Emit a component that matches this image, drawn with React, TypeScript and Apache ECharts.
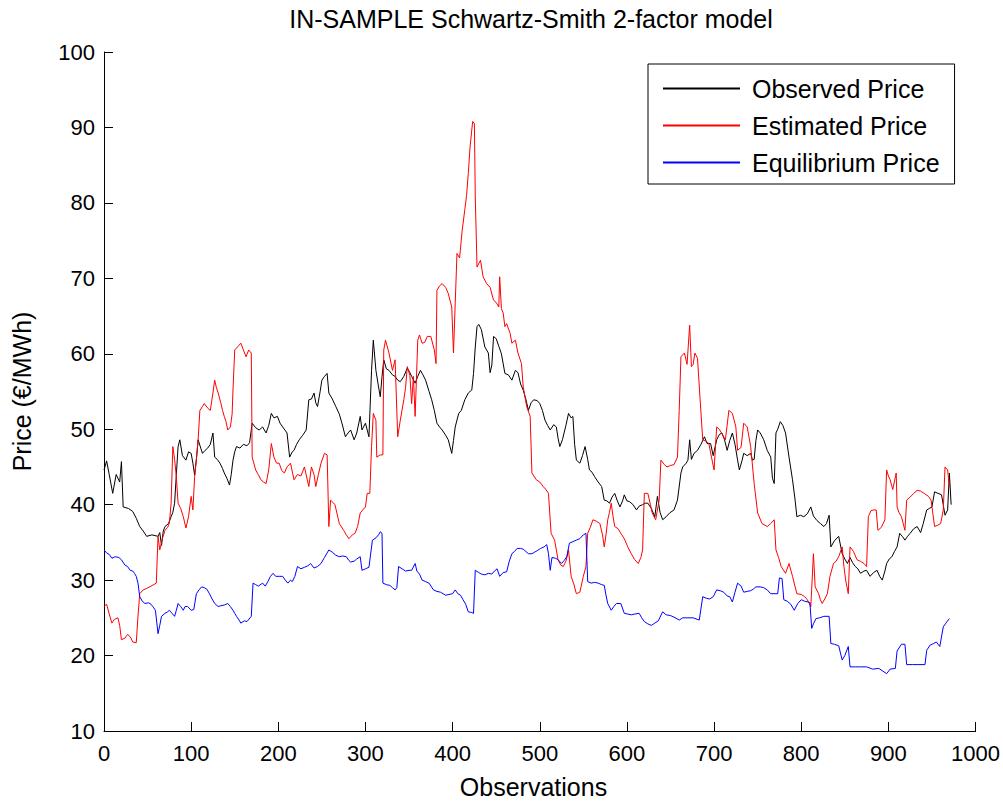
import React, { useEffect, useRef } from "react";
import * as echarts from "echarts";

const TITLE = "IN-SAMPLE Schwartz-Smith 2-factor model";
const X_NAME = "Observations";
const Y_NAME = "Price (€/MWh)";
const SERIES_NAMES = ["Observed Price", "Estimated Price", "Equilibrium Price"];
const SERIES_COLORS = ["#000000", "#ff0000", "#0000ff"];
const X_TICKS = [0, 100, 200, 300, 400, 500, 600, 700, 800, 900, 1000];
const Y_TICKS = [10, 20, 30, 40, 50, 60, 70, 80, 90, 100];

const observed: number[][] = [
  [0,44.6],[3,45.8],[6,44],[10,41.5],[14,44],[18,43],[20,45.7],[22,39.7],[28,39.5],[33,39.1],[37,38.2],[41,37.1],[45,36.5],[49,35.8],[55,36],[62,35.8],[64,36.3],[66,34.6],[68,36.5],[70,37.1],[74,37.5],[77,38.4],[79,39],[81,40.2],[83,44],[85,47.7],[87,48.6],[90,46.5],[94,45.9],[97,47],[100,46.8],[102,45.5],[104,43.9],[106,46],[108,48.6],[111,47.5],[113,46.8],[116,47.2],[119,47.5],[122,48],[125,49.5],[127,46.3],[130,46],[133,45.5],[136,44.8],[138,44.2],[141,43.5],[144,42.6],[146,44],[148,45.9],[150,47],[152,47.7],[156,47.5],[160,48],[164,47.8],[167,48.2],[170,50.8],[174,50.2],[178,49.9],[182,50.3],[186,49.5],[189,50.5],[192,52.1],[195,51.5],[199,51.7],[202,50.8],[205,50.3],[210,49.5],[213,46.3],[216,47],[218,47.2],[221,48],[224,48.6],[228,49.2],[232,49.9],[235,53.9],[238,54],[241,54.8],[243,53.5],[245,53],[248,55],[250,56.5],[253,57],[256,57.4],[258,54.8],[262,54],[266,53],[270,52],[273,50.8],[277,49],[280,49.5],[283,49.9],[287,48.6],[290,49.5],[294,51.7],[296,49.9],[300,50.8],[304,49],[307,57.8],[309,61.8],[312,57.8],[315,55.6],[317,54.3],[319,57],[321,59.2],[324,58],[327,57.8],[331,57.2],[334,57],[337,56.5],[340,56.3],[344,57],[348,58.1],[351,57.5],[353,57],[357,56.1],[360,57],[363,57.8],[366,57.2],[369,56.5],[373,55],[376,53.9],[379,52.5],[382,50.8],[385,50.3],[388,49.9],[392,49.2],[395,48.6],[399,46.8],[401,48.5],[403,50.3],[407,52.1],[410,52.5],[414,53.9],[418,54.8],[422,55.2],[424,57.4],[426,60.9],[428,63.6],[430,63.9],[433,63.2],[437,60.9],[441,60.1],[443,57.5],[445,58.5],[447,62.3],[450,62],[453,61],[456,60],[460,57.4],[464,57.2],[468,56.5],[472,57.8],[475,57.5],[478,56],[481,55.2],[484,54],[487,52.5],[490,53.5],[493,53.9],[497,53.8],[500,53.4],[503,52.5],[506,51.2],[509,50.5],[512,49.9],[516,50.6],[519,50.3],[521,48.8],[523,47.7],[526,48.6],[530,50.5],[533,52.1],[536,51.5],[538,51.7],[540,48],[542,45.9],[546,45.5],[549,46.5],[552,47.7],[555,46],[557,44.6],[560,44.3],[563,43.7],[567,43],[571,42.4],[574,40.6],[577,40.5],[580,40.2],[583,41],[586,41.5],[589,40.5],[592,39.7],[595,40.5],[597,41.3],[600,40.5],[603,40.4],[607,40],[611,39.3],[614,39.8],[618,40],[621,40.2],[624,40.2],[628,39.5],[632,38.4],[635,41.1],[638,39],[641,38],[645,38.4],[649,38.9],[654,39.3],[658,40.6],[662,44.2],[664,45],[668,45.5],[670,45.9],[672,48.6],[674,46],[677,46.8],[681,47.2],[685,48],[689,49],[692,48.1],[696,48.1],[699,46.5],[703,48.6],[706,49.3],[709,49.5],[712,48.6],[715,47.2],[718,48.5],[721,49.5],[724,48],[727,45.9],[729,44.6],[732,45.8],[734,46.8],[738,46.5],[742,46.8],[744,45.9],[746,46],[748,48.5],[750,49.9],[753,49.5],[757,48.6],[761,47.2],[765,46.3],[767,43.5],[769,42.8],[771,49.5],[773,50],[776,51],[779,50.5],[782,49.5],[786,46.3],[790,43.3],[793,40.6],[795,38.4],[799,38.6],[803,38.4],[807,38.8],[811,39.7],[814,38.5],[818,37.9],[822,37.5],[826,37.1],[829,37.5],[832,38.6],[834,34.4],[838,35.2],[843,35.8],[847,33.5],[850,32.8],[853,32.2],[856,33],[859,32.3],[862,31.8],[865,31.5],[868,30.9],[872,31.2],[875,31.3],[879,30.5],[883,31],[887,31.3],[890,30.5],[893,30],[896,31.2],[898,32.2],[901,32.8],[904,33.1],[907,33.8],[910,34.4],[913,36.2],[916,35.8],[919,35.3],[922,35.8],[925,36.2],[929,36.8],[933,37.1],[937,36.3],[940,37.5],[944,39.3],[947,39.5],[950,39.7],[953,41.7],[957,41.5],[961,41.3],[965,38.6],[968,39.3],[970,44.2],[972,40]
];

const estimated: number[][] = [
  [0,26.5],[3,26.8],[6,25.5],[9,24.3],[12,24.8],[16,25],[18,24],[20,22.1],[24,22.3],[27,22.8],[30,22.5],[33,21.8],[37,21.7],[39,25.2],[41,28.2],[45,28.7],[49,28.9],[54,29.2],[60,29.6],[62,35.8],[64,34],[67,35.5],[70,36.6],[73,37],[75,37.5],[77,40.2],[79,47.7],[81,46],[83,43.7],[85,40.2],[88,39.5],[91,38.4],[94,36.9],[97,38.4],[100,41.1],[102,39.3],[104,43.7],[106,46],[108,48.6],[110,52.5],[113,53],[115,53.4],[119,52.8],[122,52.5],[125,54.8],[127,56.5],[129,55.5],[131,54.8],[134,53.5],[136,52.5],[138,51.7],[140,51],[142,49.9],[145,50.3],[147,52],[148,55.2],[150,60.5],[154,61],[157,61.4],[160,60.5],[163,59.6],[166,60.5],[169,60.1],[170,46.3],[174,44.6],[177,44],[180,43.3],[183,43],[186,42.8],[189,44.6],[192,48.1],[195,46.3],[198,45.5],[201,45.5],[204,44.5],[207,44.2],[210,45],[214,45.5],[218,43.3],[222,44],[226,43.8],[230,45],[235,42.4],[238,45],[241,44],[243,42.4],[246,44],[249,45.5],[253,46.8],[256,46.6],[258,37.1],[260,40.6],[265,40],[270,37.5],[275,36.6],[278,36],[281,35.5],[285,36],[288,36.2],[291,37.1],[294,38.9],[297,39.3],[300,39.7],[302,41.5],[305,41.5],[307,47.7],[309,52.1],[312,51.2],[313,46.3],[317,46.6],[320,46.6],[321,60.5],[323,61.8],[327,60.1],[331,57.8],[334,59.2],[337,49],[340,51.2],[344,53.9],[346,55.5],[348,58.3],[351,57.1],[353,53.4],[355,57],[357,51.7],[360,61.8],[362,62.5],[365,61.4],[368,61.5],[371,62.3],[375,62.3],[379,60.5],[381,58.7],[382,68.4],[385,69],[388,69.3],[392,68.8],[395,68],[399,66.2],[401,60.1],[403,66.7],[405,73.3],[408,72.7],[411,76.4],[414,79.1],[416,81],[418,83.9],[420,87.4],[423,90.8],[425,90.5],[426,80.8],[428,71.5],[432,72.4],[435,70.2],[439,69.3],[443,68.8],[447,67.1],[450,66.8],[453,66.2],[454,70.2],[456,66],[458,65.4],[460,63.6],[462,64],[466,62.7],[468,61.4],[472,61.8],[475,60.1],[479,58.7],[481,55.6],[485,53],[489,51.7],[491,44.2],[496,43.3],[500,43],[504,42.4],[507,42],[510,41.5],[513,36.2],[517,35.3],[521,32.7],[524,32],[527,31.8],[530,32.5],[533,34],[536,30.5],[539,29.5],[542,28.2],[546,28.4],[550,30.5],[553,31.8],[555,36.2],[558,37],[561,38],[565,37.8],[569,37.5],[572,36],[574,34.4],[576,36],[578,38],[580,39],[582,40.2],[584,38.5],[586,37.1],[590,36.8],[593,36.2],[597,35.5],[601,34.4],[605,33.5],[609,32.7],[613,32.2],[616,33],[618,34],[620,41.5],[624,41.5],[627,40],[629,38.9],[633,38],[637,40.6],[639,45.9],[643,45.3],[646,45],[650,45.2],[654,45.3],[658,46.3],[660,52.5],[662,59.6],[666,60.1],[669,58.6],[672,63.8],[674,58.3],[676,58.6],[678,60.1],[681,59.4],[684,53.9],[687,48.6],[691,48.4],[694,48.1],[697,46.3],[700,44.6],[703,50.3],[706,50],[709,49.4],[713,48.6],[717,52.5],[721,52.1],[725,50.3],[727,47.2],[731,47.6],[734,50.8],[738,50.3],[742,47.7],[746,42.8],[750,38.9],[755,37.5],[761,37.1],[765,37.5],[769,38],[771,34],[774,33],[777,31.8],[782,30.9],[786,32.2],[790,30.5],[795,28.2],[800,28.1],[804,27.8],[807,27.4],[811,26.5],[814,33.5],[816,29.1],[820,28.2],[822,27.4],[824,26.9],[827,27.5],[830,28.2],[833,30.5],[837,32.2],[840,32.5],[843,33.1],[847,34.4],[849,31.8],[851,30],[854,28.2],[856,34.4],[860,33.8],[864,32.7],[868,32.5],[872,32.2],[875,31.8],[877,38.4],[880,39.2],[883,39.3],[886,39.3],[888,36.6],[892,37],[896,38],[898,44.6],[900,43.8],[902,43.3],[905,42],[909,44.2],[910,39.7],[912,39],[915,38.4],[919,36.6],[921,40.6],[925,41],[929,41.5],[933,41.9],[937,41.8],[941,41.5],[946,41.1],[949,40.6],[953,37.1],[957,37.3],[960,37.5],[963,39.3],[965,45],[968,44.6],[970,42.4]
];

const equilibrium: number[][] = [
  [0,34],[3,33.6],[6,33.4],[9,32.9],[13,33.1],[17,33],[20,32.7],[24,32],[27,31.8],[30,31.3],[33,31.2],[35,30.9],[37,30.5],[39,29.6],[41,27.8],[44,27.2],[47,26.9],[51,27],[54,26.8],[56,26.5],[59,26],[62,22.9],[64,24],[66,25.2],[70,25.6],[73,25.8],[75,26],[78,25.6],[81,25.2],[83,26],[85,26.9],[88,26.5],[91,26],[93,26.5],[96,26.5],[100,26],[103,26.1],[106,28.2],[109,28.7],[112,29.1],[115,29],[118,28.8],[121,28.2],[124,27.5],[127,26.9],[131,26.5],[134,26.6],[138,26.7],[142,26.9],[145,26.5],[148,26],[150,25.6],[152,25.2],[155,24.7],[157,24.3],[161,24.6],[164,24.5],[169,25.2],[171,29.6],[174,29.4],[177,29.2],[182,29.6],[185,29.2],[188,29.8],[191,30.5],[194,30.9],[197,30.5],[201,30.5],[205,30.5],[208,30],[211,29.6],[214,30],[216,29.8],[219,30.5],[222,31.8],[226,31.5],[230,31.7],[234,31.9],[237,32.2],[241,31.6],[245,31.8],[249,32.2],[253,33],[256,33.6],[258,34],[262,33.7],[266,33.3],[270,33.1],[274,33.2],[278,33.1],[281,32.6],[283,32.4],[287,32.5],[290,32.8],[294,33.1],[296,31.3],[300,31.5],[304,31.7],[308,35.3],[312,35.6],[315,36],[317,36.4],[319,36.2],[320,29.6],[324,29.4],[328,29.3],[331,29],[334,28.7],[336,29],[338,31.8],[342,31.5],[346,31.2],[350,31.3],[353,31.3],[357,32.2],[359,31.2],[362,30.8],[365,30],[369,29.8],[373,29.6],[378,28.7],[382,28.5],[386,28.4],[392,28],[396,28.1],[400,28.2],[403,28.7],[406,28.2],[409,28],[412,27.4],[415,26.8],[418,25.8],[422,25.7],[424,25.6],[426,31.3],[430,31],[433,30.8],[437,30.7],[441,30.9],[445,30.8],[448,31.2],[451,31.5],[454,30.5],[458,31],[462,31.1],[465,32.5],[468,33.5],[471,33.8],[474,34.2],[478,34.2],[481,34.1],[484,33.8],[487,33.5],[491,33.5],[494,33.7],[497,33.9],[501,34.2],[505,34.4],[508,34.7],[510,33.5],[512,31.3],[514,33],[518,32.9],[521,32.7],[525,32.2],[528,32.6],[531,33.1],[534,34.9],[538,35.1],[542,35.3],[546,35.5],[550,36],[553,36.2],[555,29.8],[559,29.6],[563,29.7],[567,29.6],[571,29.4],[574,29.3],[576,28],[578,26.9],[582,26],[585,26.5],[588,26.9],[593,26.9],[597,25.6],[601,25.5],[605,25.4],[609,25.5],[614,25.6],[617,25],[620,24.5],[624,24.2],[628,24],[632,24.3],[636,24.6],[641,25.8],[645,25.4],[650,25.3],[654,25.1],[660,24.7],[664,25],[670,25],[676,25],[683,24.7],[687,27.8],[691,27.6],[695,27.5],[699,27.8],[703,28.7],[707,28.6],[711,28.4],[715,27.9],[718,27.8],[721,27.1],[724,28.4],[727,29.6],[731,29.2],[734,28.4],[738,28.5],[742,28.6],[745,28.8],[748,29.1],[753,29.1],[757,29],[761,28.7],[765,28.2],[770,28.2],[773,28.2],[775,30.3],[778,30.2],[780,27.4],[784,27.2],[788,26.8],[792,26],[796,26.9],[800,27.4],[804,27.2],[808,27.1],[810,27],[812,23.6],[814,24.2],[817,24.9],[821,25],[826,25.2],[832,25.2],[834,21.6],[838,21.5],[843,21.3],[847,19.4],[850,20],[854,21.2],[856,18.5],[862,18.5],[868,18.5],[875,18.5],[882,18.2],[889,18.3],[898,17.6],[902,18.2],[908,18.3],[910,20.6],[915,21.5],[919,21.5],[921,18.8],[928,18.8],[935,18.8],[942,18.8],[944,20.7],[948,21.4],[952,21.6],[955,21.8],[959,21.2],[963,23.8],[966,24.3],[970,24.9]
];

const FONT = "'Liberation Sans', Arial, Helvetica, sans-serif";

export default function App() {
  const ref = useRef<HTMLDivElement>(null);

  useEffect(() => {
    document.body.style.margin = "0";
    if (!ref.current) return;
    const chart = echarts.init(ref.current, undefined, { renderer: "svg" });
    const seriesData = [observed, estimated, equilibrium];
    const gridLeft = 104, gridRight = 24, gridTop = 52, gridBottom = 71;
    const W = 1003, H = 802;
    const plotCenterX = gridLeft + (W - gridLeft - gridRight) / 2;
    const plotCenterY = gridTop + (H - gridTop - gridBottom) / 2;

    chart.setOption({
      animation: false,
      backgroundColor: "#ffffff",
      textStyle: { fontFamily: FONT },
      grid: { left: gridLeft, right: gridRight, top: gridTop, bottom: gridBottom, containLabel: false },
      xAxis: {
        type: "value",
        min: X_TICKS[0],
        max: X_TICKS[X_TICKS.length - 1],
        interval: X_TICKS[1] - X_TICKS[0],
        axisLine: { show: true, lineStyle: { color: "#000", width: 1 } },
        axisTick: { show: true, inside: true, length: 9, lineStyle: { color: "#000", width: 1 } },
        axisLabel: { color: "#000", fontSize: 22, fontFamily: FONT, margin: 11, formatter: (v: number) => String(v) },
        splitLine: { show: false },
      },
      yAxis: {
        type: "value",
        min: Y_TICKS[0],
        max: Y_TICKS[Y_TICKS.length - 1],
        interval: Y_TICKS[1] - Y_TICKS[0],
        axisLine: { show: true, lineStyle: { color: "#000", width: 1 } },
        axisTick: { show: true, inside: true, length: 9, lineStyle: { color: "#000", width: 1 } },
        axisLabel: { color: "#000", fontSize: 22, fontFamily: FONT, margin: 9, formatter: (v: number) => String(v) },
        splitLine: { show: false },
      },
      legend: {
        orient: "vertical",
        left: 648,
        top: 64,
        padding: [12, 15, 9, 15],
        itemGap: 12,
        itemWidth: 77,
        itemHeight: 2,
        icon: "rect",
        borderColor: "#000",
        borderWidth: 1,
        backgroundColor: "#fff",
        textStyle: { color: "#000", fontSize: 25, fontFamily: FONT, lineHeight: 25, padding: [0, 0, 0, 7] },
        data: SERIES_NAMES,
      },
      graphic: [
        {
          type: "text",
          x: 531,
          y: 19,
          style: { text: TITLE, fontSize: 25, fontFamily: FONT, fill: "#000", align: "center", verticalAlign: "middle" },
        },
        {
          type: "text",
          x: plotCenterX - 8,
          y: 787,
          style: { text: X_NAME, fontSize: 25, fontFamily: FONT, fill: "#000", align: "center", verticalAlign: "middle" },
        },
        {
          type: "text",
          x: 22,
          y: plotCenterY,
          rotation: Math.PI / 2,
          style: { text: Y_NAME, fontSize: 25, fontFamily: FONT, fill: "#000", align: "center", verticalAlign: "middle" },
        },
      ],
      series: SERIES_NAMES.map((name, i) => ({
        name,
        type: "line",
        data: seriesData[i],
        symbol: "none",
        showSymbol: false,
        color: SERIES_COLORS[i],
        lineStyle: { color: SERIES_COLORS[i], width: 1 },
        z: 2 + i,
      })),
    });

    return () => chart.dispose();
  }, []);

  return <div ref={ref} style={{ width: 1003, height: 802 }} />;
}
